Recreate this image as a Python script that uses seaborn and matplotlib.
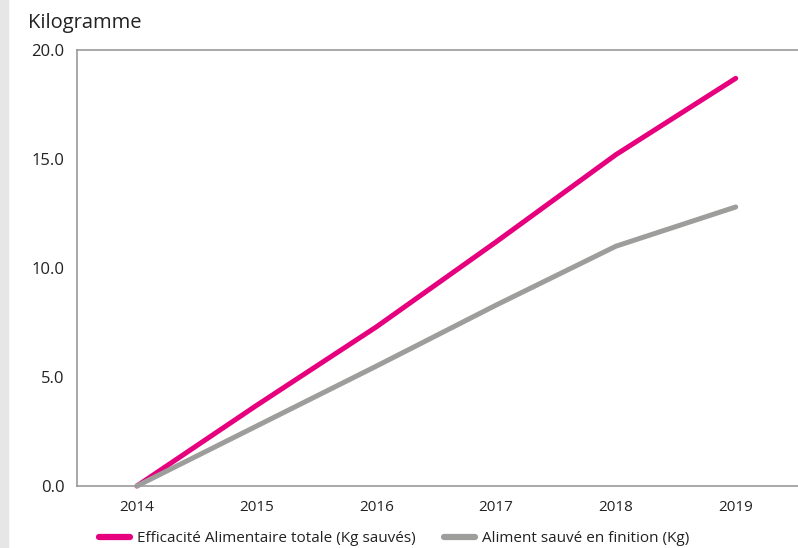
import numpy as np
import pandas as pd
import matplotlib
matplotlib.use('Agg')
import matplotlib.pyplot as plt
import seaborn as sns
from matplotlib.patches import Rectangle

years = ['2014', '2015', '2016', '2017', '2018', '2019']
efficacite = [0.0, 3.7, 7.3, 11.2, 15.2, 18.7]  # Efficacité Alimentaire totale
finition = [0.0, 2.75, 5.5, 8.3, 11.0, 12.8]     # Aliment sauvé en finition
series_names = ['Efficacité Alimentaire totale (Kg sauvés)', 'Aliment sauvé en finition (Kg)']
colors = ['#E6007E', '#9D9D9C']
yticks = [0, 5, 10, 15, 20]

sns.set_style('white')
plt.rcParams['font.family'] = ['Open Sans', 'DejaVu Sans']

df = pd.DataFrame({
    'pos': list(range(len(years))) * 2,
    'val': efficacite + finition,
    'serie': [series_names[0]] * len(years) + [series_names[1]] * len(years),
})

fig = plt.figure(figsize=(7.98, 5.48), dpi=100)
ax = fig.add_axes([77 / 798, 1 - 486 / 548, 1 - 77 / 798, (486 - 50) / 548])

# light grey strip at the very left of the picture
fig.patches.append(Rectangle((0, 0), 8 / 798, 1, transform=fig.transFigure,
                             color='#E6E6E6', zorder=0))

sns.lineplot(data=df, x='pos', y='val', hue='serie', palette=colors,
             hue_order=series_names, linewidth=3.6, ax=ax, legend=False)
for ln in ax.get_lines():
    ln.set_solid_capstyle('round')
    ln.set_solid_joinstyle('round')
    ln.set_clip_on(False)

ax.set_xlim(-0.47, 5.52)
ax.set_ylim(0, 20)
ax.set_xticks(range(len(years)))
ax.set_xticklabels(years, fontsize=11)
ax.set_xticks(np.arange(-0.5, 5.5, 1), minor=True)
ax.tick_params(axis='x', which='major', length=0, pad=10, colors='#222222')
ax.tick_params(axis='x', which='minor', length=5, width=1, direction='out')
ax.set_yticks(yticks)
ax.set_yticklabels([f'{v:.1f}' for v in yticks], fontsize=12)
ax.tick_params(axis='y', length=5, width=1, direction='out', pad=4, colors='#222222')
ax.tick_params(axis='both', which='both', color='#9a9a9a')
ax.set_xlabel('')
ax.set_ylabel('')

for side in ['left', 'bottom', 'top']:
    ax.spines[side].set_color('#9a9a9a')
    ax.spines[side].set_linewidth(1.2)
ax.spines['right'].set_visible(False)

fig.text(28 / 798, 1 - 23 / 548, 'Kilogramme', fontsize=14.5, color='#222222',
         va='center', ha='left')

handles = [plt.Line2D([], [], color=c, linewidth=4.5, solid_capstyle='round') for c in colors]
leg = fig.legend(handles, series_names, loc='center', bbox_to_anchor=(394 / 798, 1 - 539 / 548),
                 ncol=2, frameon=False, handlelength=2.0, columnspacing=1.9,
                 prop={'size': 11}, handletextpad=0.45, borderpad=0, borderaxespad=0)
for t in leg.get_texts():
    t.set_color('#222222')

fig.savefig('out.png', dpi=100)
